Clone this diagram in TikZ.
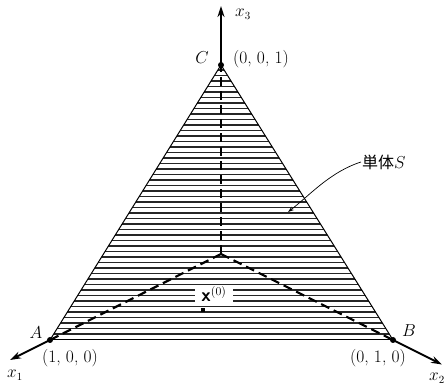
\documentclass[tikz,border=0pt]{standalone}
\usepackage{fontspec}
\newfontfamily\cjk{Noto Sans CJK JP}
\usetikzlibrary{arrows.meta}
\begin{document}
\begin{tikzpicture}[x=1pt,y=-1pt,
  lbl/.style={inner sep=1pt, font=\fontsize{17.5}{20}\selectfont},
  axlbl/.style={inner sep=1pt, font=\fontsize{16}{18}\selectfont},
  axis/.style={line width=2pt, -{Stealth[length=11pt,width=7pt]}},
  dsh/.style={line width=2.2pt, dash pattern=on 9pt off 5pt},
  edge/.style={line width=1pt},
  hatch/.style={line width=1.1pt, black!85},
  dot/.style={circle, fill=black, inner sep=0pt, minimum size=6pt}]
\useasboundingbox (0,0) rectangle (445,390);
\coordinate (C) at (221,65);
\coordinate (A) at (50,340);
\coordinate (B) at (393,340);
\coordinate (O) at (221,254);
\coordinate (t3) at (221,6);
\coordinate (t1) at (10,360);
\coordinate (t2) at (442,364.5);
% hatching
\begin{scope}
\clip (C) -- (A) -- (B) -- cycle;
\foreach \yy in {70,75.5,...,340} {\draw[hatch] (40,\yy) -- (400,\yy);}
\draw[hatch] (40,339.5) -- (400,339.5);
\end{scope}
% label background
\fill[white] (195,285) rectangle (233,303);
% edges
\draw[edge] (A) -- (C) -- (B);
\draw[edge] (A) -- (B);
% dashed
\draw[dsh] (O) -- (A);
\draw[dsh] (O) -- (B);
\draw[dsh] (O) -- (C);
% axes
\draw[axis] (C) -- (t3);
\draw[axis] (A) -- (t1);
\draw[axis] (B) -- (t2);
% dots
\node[dot] (dC) at (C) {};
\node[dot] (dA) at (A) {};
\node[dot] (dB) at (B) {};
\node[fill=black, inner sep=0pt, minimum size=4.5pt] (x0) at (203,310) {};
% labels
\node[axlbl] (lx3) at (243,14) {$x_3$};
\node[axlbl] (lx1) at (15,375) {$x_1$};
\node[axlbl] (lx2) at (437,378) {$x_2$};
\node[lbl] (lC) at (202,58) {$C$};
\node[lbl] (lA) at (36,333) {$A$};
\node[lbl] (lB) at (409,331) {$B$};
\node[lbl] (cC) at (261,59) {(0, 0, 1)};
\node[lbl] (cA) at (70,358) {(1, 0, 0)};
\node[lbl] (cB) at (378,358) {(0, 1, 0)};
\node[lbl] (xl) at (214,294) {{\fontsize{19}{21}\selectfont\textbf{\sffamily x}}$^{(0)}$};
\node[inner sep=1pt, anchor=west] (S) at (361,162) {{\cjk\fontsize{16}{18}\selectfont 単体}{\fontsize{18}{20}\selectfont$S$}};
\draw[line width=0.7pt, -{Stealth[length=6pt,width=4pt]}] (S.west) .. controls (330,172) and (310,195) .. (288,212);
\end{tikzpicture}
\end{document}
